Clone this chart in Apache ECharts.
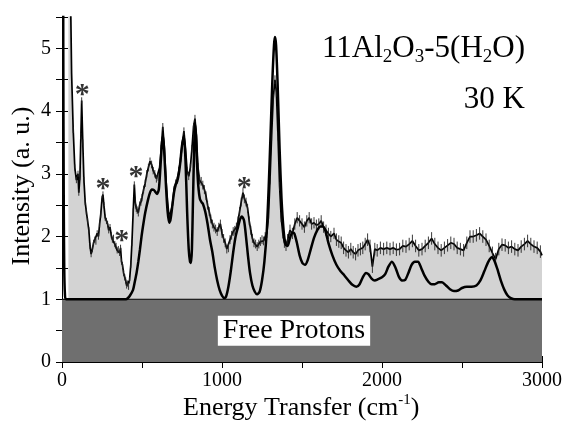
<!DOCTYPE html>
<html>
<head>
<meta charset="utf-8">
<script src="https://cdn.jsdelivr.net/npm/echarts@6/dist/echarts.min.js"></script>
<style>
html, body { margin: 0; padding: 0; background: #fff; }
#chart { width: 565px; height: 422px; }
</style>
</head>
<body>
<div id="chart"></div>
<script>
// Measured spectrum: energy transfer (cm-1), intensity (a. u.) and error bar half-widths
const expX = [
  40, 50, 60, 70, 80, 90, 100, 105, 112, 118,
  123, 130, 137, 145, 152, 160, 168, 175, 182, 190,
  197, 205, 212, 220, 228, 235, 242, 250, 256, 262,
  270, 278, 285, 292, 300, 308, 315, 322, 330, 338,
  345, 352, 360, 366, 372, 378, 385, 392, 398, 404,
  410, 416, 422, 430, 437, 445, 452,
  458, 464, 470, 477, 485, 493, 500, 510, 520, 530,
  540, 550, 560, 570, 580, 590, 600, 610, 620, 630,
  640, 650, 660, 670, 680, 690, 700, 710, 720, 730,
  740, 750, 762, 772, 782, 792, 802, 812, 822, 831,
  840, 850, 860, 870, 880, 890, 900, 910, 920, 930,
  940, 950, 960, 970, 980, 990, 1000,
  1010, 1020, 1030, 1040, 1050, 1060, 1070, 1080, 1090, 1100,
  1110, 1120, 1131, 1140, 1150, 1160, 1170, 1180, 1190, 1200,
  1210, 1220, 1230, 1240, 1250, 1260, 1270, 1280, 1290, 1300,
  1310, 1320, 1331, 1340, 1350, 1360, 1370, 1380, 1390, 1400,
  1410, 1425, 1440, 1455, 1470, 1485, 1500, 1515, 1530, 1545,
  1560, 1575, 1590, 1605, 1620, 1635, 1650, 1665, 1680, 1700,
  1715, 1730, 1745, 1760, 1775, 1790, 1805, 1820, 1835, 1850,
  1865, 1880, 1895, 1910, 1925,
  1940, 1955, 1970, 1990, 2010, 2030, 2050, 2070, 2090, 2110,
  2130, 2150, 2170, 2190, 2210, 2230, 2250, 2270, 2290, 2310,
  2330, 2350, 2370, 2390, 2410, 2430, 2450, 2470, 2490, 2510,
  2530, 2550, 2570, 2590, 2610, 2630, 2650, 2670, 2690, 2710,
  2730, 2750, 2770, 2790, 2810, 2830, 2850, 2870, 2890, 2910,
  2930, 2950, 2970, 2990, 3000
];
const expY = [
  9.0, 6.5, 4.6, 3.7, 3.1, 2.9, 3.0, 2.7, 2.95, 3.6,
  4.17, 3.5, 2.9, 2.55, 2.4, 2.25, 2.1, 1.85, 1.72, 1.8,
  1.9, 1.95, 1.92, 2.05, 2.0, 2.2, 2.35, 2.6, 2.67, 2.5,
  2.3, 2.25, 2.2, 2.1, 2.15, 2.02, 1.95, 1.98, 1.88, 1.85,
  1.78, 1.8, 1.74, 1.82, 1.6, 1.55, 1.42, 1.35, 1.3, 1.22,
  1.25, 1.2, 1.3, 1.55, 1.9, 2.4, 2.83,
  2.55, 2.45, 2.42, 2.38, 2.5, 2.55, 2.62, 2.75, 2.85, 3.0,
  3.1, 3.2, 3.15, 3.05, 3.0, 2.92, 2.95, 3.1, 3.4, 3.75,
  3.4, 2.9, 2.55, 2.3, 2.3, 2.5, 2.75, 2.85, 2.9, 3.05,
  3.2, 3.45, 3.68, 3.4, 3.05, 2.96, 3.1, 3.4, 3.75, 3.88,
  3.6, 3.1, 2.9, 2.88, 2.82, 2.75, 2.65, 2.5, 2.4, 2.28,
  2.2, 2.15, 2.12, 2.08, 2.15, 2.2, 2.05,
  1.97, 1.9, 1.8, 1.82, 1.95, 2.02, 2.08, 2.1, 2.15, 2.25,
  2.4, 2.55, 2.7, 2.6, 2.55, 2.45, 2.25, 2.1, 1.97, 1.9,
  1.88, 1.84, 1.88, 1.92, 1.95, 1.93, 2.0, 2.05, 2.3, 2.9,
  3.6, 4.2, 4.5, 4.3, 3.6, 2.8, 2.3, 2.05, 1.9, 1.85,
  1.95, 2.1, 2.05, 2.2, 2.3, 2.25, 2.2, 2.15, 2.25, 2.3,
  2.2, 2.22, 2.18, 2.2, 2.25, 2.15, 2.1, 2.05, 2.0, 2.05,
  1.95, 1.92, 1.9, 1.82, 1.78, 1.75, 1.8, 1.75, 1.72, 1.78,
  1.8, 1.82, 1.88, 1.95, 1.85,
  1.52, 1.8, 1.78, 1.82, 1.8, 1.82, 1.8, 1.82, 1.79, 1.8,
  1.85, 1.84, 1.88, 1.93, 1.85, 1.78, 1.8, 1.85, 1.9, 1.97,
  1.88, 1.82, 1.78, 1.82, 1.86, 1.9, 1.88, 1.82, 1.8, 1.78,
  1.9, 2.0, 2.0, 2.02, 2.05, 2.0, 1.95, 1.85, 1.74, 1.64,
  1.8, 1.87, 1.86, 1.82, 1.84, 1.8, 1.78, 1.84, 1.88, 1.93,
  1.88, 1.84, 1.82, 1.76, 1.7
];
const expErr = [
  0, 0, 0, 0.05, 0.05, 0.05, 0.05, 0.05, 0.05, 0.05,
  0.05, 0.05, 0.05, 0.05, 0.05, 0.05, 0.05, 0.05, 0.05, 0.05,
  0.05, 0.05, 0.05, 0.05, 0.05, 0.05, 0.05, 0.05, 0.05, 0.05,
  0.05, 0.05, 0.05, 0.05, 0.05, 0.05, 0.05, 0.05, 0.05, 0.05,
  0.05, 0.05, 0.05, 0.05, 0.05, 0.05, 0.05, 0.05, 0.05, 0.05,
  0.05, 0.05, 0.05, 0.05, 0.05, 0.05, 0.05,
  0.06, 0.06, 0.06, 0.06, 0.06, 0.06, 0.06, 0.06, 0.06, 0.06,
  0.06, 0.06, 0.06, 0.06, 0.06, 0.06, 0.06, 0.06, 0.06, 0.06,
  0.06, 0.06, 0.06, 0.06, 0.06, 0.06, 0.06, 0.06, 0.06, 0.06,
  0.06, 0.06, 0.06, 0.06, 0.06, 0.06, 0.06, 0.06, 0.06, 0.06,
  0.07, 0.07, 0.07, 0.07, 0.07, 0.07, 0.07, 0.07, 0.07, 0.07,
  0.07, 0.07, 0.07, 0.07, 0.07, 0.07, 0.07,
  0.07, 0.07, 0.07, 0.07, 0.07, 0.07, 0.07, 0.07, 0.07, 0.07,
  0.07, 0.07, 0.07, 0.07, 0.07, 0.07, 0.07, 0.07, 0.07, 0.07,
  0.07, 0.07, 0.07, 0.07, 0.07, 0.07, 0.07, 0.07, 0.07, 0.07,
  0.07, 0.07, 0.07, 0.07, 0.07, 0.07, 0.07, 0.08, 0.08, 0.08,
  0.09, 0.09, 0.09, 0.09, 0.09, 0.09, 0.09, 0.09, 0.09, 0.09,
  0.09, 0.09, 0.09, 0.09, 0.09, 0.09, 0.09, 0.09, 0.09, 0.09,
  0.1, 0.1, 0.1, 0.1, 0.1, 0.1, 0.1, 0.1, 0.1, 0.1,
  0.1, 0.1, 0.1, 0.1, 0.1,
  0.1, 0.1, 0.1, 0.1, 0.1, 0.1, 0.1, 0.1, 0.1, 0.1,
  0.1, 0.1, 0.1, 0.1, 0.1, 0.1, 0.1, 0.1, 0.1, 0.1,
  0.1, 0.1, 0.1, 0.1, 0.1, 0.1, 0.1, 0.1, 0.1, 0.1,
  0.1, 0.1, 0.1, 0.1, 0.1, 0.1, 0.1, 0.1, 0.1, 0.1,
  0.1, 0.1, 0.1, 0.1, 0.1, 0.1, 0.1, 0.1, 0.1, 0.1,
  0.1, 0.1, 0.1, 0.1, 0
];

// Model curve on top of the free-proton background
const fitX = [
  0, 5, 8, 11, 14, 18, 25, 100, 400, 412,
  425, 444, 455, 466, 477, 487, 497, 506, 520, 537,
  550, 562, 575, 594, 605, 615, 625, 632, 640, 650,
  660, 670, 680, 690, 700, 710, 720, 730, 740, 750,
  762, 772, 782, 792, 800, 806, 812, 818, 825, 831,
  838, 845, 852, 862, 872, 881, 895, 910, 925, 940,
  955, 970, 985, 1000, 1015, 1025, 1040, 1055, 1070, 1085,
  1100, 1112, 1125, 1138, 1150, 1162, 1175, 1190, 1205, 1219,
  1235, 1250, 1265, 1280, 1292, 1303, 1315, 1325, 1331, 1338,
  1348, 1360, 1372, 1385, 1397, 1410, 1425, 1440, 1452, 1468,
  1485, 1502, 1519, 1535, 1555, 1575, 1595, 1615, 1630, 1645,
  1665, 1690, 1715, 1740, 1765, 1790, 1815, 1840, 1860, 1880,
  1900, 1915, 1935, 1955, 1975, 2000, 2020, 2040, 2062, 2085,
  2105, 2125, 2145, 2165, 2185, 2205, 2225, 2245, 2265, 2290,
  2310, 2330, 2355, 2375, 2400, 2425, 2450, 2475, 2500, 2530,
  2560, 2590, 2615, 2640, 2665, 2687, 2705, 2725, 2745, 2765,
  2785, 2805, 2830, 3000
];
const fitY = [
  30, 12, 5, 2.5, 1.5, 1.1, 1.0, 1.0, 1.0, 1.02,
  1.06, 1.15, 1.28, 1.42, 1.6, 1.79, 2.0, 2.16, 2.38, 2.58,
  2.7, 2.75, 2.74, 2.68, 2.75, 3.1, 3.5, 3.6, 3.3, 2.8,
  2.4, 2.22, 2.3, 2.5, 2.7, 2.82, 2.88, 3.0, 3.2, 3.45,
  3.6, 3.2, 2.4, 1.8, 1.6, 1.58, 1.8, 2.5, 3.3, 3.8,
  3.6, 3.1, 2.8, 2.6, 2.55, 2.52, 2.4, 2.2, 1.95, 1.75,
  1.5, 1.3, 1.15, 1.06, 1.02, 1.04, 1.2, 1.45, 1.75, 2.0,
  2.15, 2.27, 2.32, 2.25, 2.0, 1.7, 1.42, 1.22, 1.12, 1.08,
  1.12, 1.3, 1.6, 2.1, 2.8, 3.6, 4.5, 5.05, 5.18, 5.05,
  4.4, 3.4, 2.6, 2.1, 1.88, 1.85, 1.98, 2.06, 2.05, 1.9,
  1.7, 1.58, 1.55, 1.62, 1.8, 1.98, 2.1, 2.16, 2.16, 2.1,
  1.9, 1.7, 1.55, 1.45, 1.38, 1.3, 1.23, 1.2, 1.24, 1.35,
  1.42, 1.4, 1.33, 1.3, 1.32, 1.35, 1.4, 1.52, 1.6, 1.5,
  1.36, 1.3, 1.31, 1.42, 1.55, 1.6, 1.6, 1.5, 1.38, 1.28,
  1.24, 1.24, 1.27, 1.27, 1.22, 1.16, 1.13, 1.14, 1.18, 1.2,
  1.2, 1.22, 1.3, 1.45, 1.6, 1.67, 1.6, 1.45, 1.28, 1.15,
  1.06, 1.02, 1.0, 1.0
];

// Peaks marked with an asterisk (label anchor in data units)
const starX = [127, 256, 373, 462, 1139];
const starY = [4.36, 2.86, 2.03, 3.05, 2.88];

// Free-proton band: [xStart, xEnd, yLow, yHigh]
const freeBand = [[0, 3000, 0, 1]];
const freeLabel = 'Free Protons';

const xTickLabels = ['0', '1000', '2000', '3000'];
const yTickLabels = ['0', '1', '2', '3', '4', '5'];

const SERIF = '"Liberation Serif", "DejaVu Serif", serif';

const expData = expX.map((x, i) => [x, expY[i], expErr[i]]);
const fitData = fitX.map((x, i) => [x, fitY[i]]);
const starData = starX.map((x, i) => [x, starY[i]]);

const chart = echarts.init(document.getElementById('chart'), null, { renderer: 'canvas' });

const axisLine = { show: true, lineStyle: { color: '#000', width: 1 } };
const tickStyle = { show: true, inside: false, length: 6, lineStyle: { color: '#000', width: 1 } };

const option = {
  backgroundColor: '#fff',
  animation: false,
  grid: { left: 62, right: 23, top: 17, bottom: 60, containLabel: false },
  xAxis: [
    {
      type: 'value', min: 0, max: 3000, interval: 500, position: 'bottom',
      axisLine, axisTick: tickStyle, splitLine: { show: false },
      axisLabel: {
        color: '#000', fontFamily: SERIF, fontSize: 20, margin: 9,
        formatter: v => { const s = String(v); return xTickLabels.indexOf(s) >= 0 ? s : ''; }
      }
    },
    {
      type: 'value', min: 0, max: 3000, interval: 500, position: 'top',
      axisLine, axisTick: tickStyle, splitLine: { show: false }, axisLabel: { show: false }
    }
  ],
  yAxis: [
    {
      type: 'value', min: 0, max: 5.5, interval: 0.5, position: 'left',
      axisLine, axisTick: tickStyle, splitLine: { show: false },
      axisLabel: {
        color: '#000', fontFamily: SERIF, fontSize: 20, margin: 11,
        formatter: v => { const s = String(v); return yTickLabels.indexOf(s) >= 0 ? s : ''; }
      }
    },
    {
      type: 'value', min: 0, max: 5.5, interval: 0.5, position: 'right',
      axisLine, axisTick: tickStyle, splitLine: { show: false }, axisLabel: { show: false }
    }
  ],
  series: [
    {
      // measured spectrum, shaded underneath
      name: 'measured',
      type: 'line',
      data: expData,
      symbol: 'none',
      clip: true,
      z: 2,
      lineStyle: { color: '#000', width: 1.7 },
      areaStyle: { color: '#d3d3d3', opacity: 1, origin: 'start' }
    },
    {
      // free-proton background band with its label
      name: 'free protons',
      type: 'custom',
      z: 3,
      data: freeBand,
      renderItem: (params, api) => {
        const p0 = api.coord([api.value(0), api.value(2)]);
        const p1 = api.coord([api.value(1), api.value(3)]);
        const cx = api.coord([1450, 0.5]);
        return {
          type: 'group',
          children: [
            {
              type: 'rect',
              shape: { x: p0[0], y: p1[1], width: p1[0] - p0[0], height: p0[1] - p1[1] },
              style: { fill: '#6f6f6f' }
            },
            {
              type: 'line',
              shape: { x1: p0[0], y1: p1[1], x2: p1[0], y2: p1[1] },
              style: { stroke: '#000', lineWidth: 1.2 }
            },
            {
              type: 'text',
              x: cx[0], y: cx[1],
              style: {
                text: freeLabel, fill: '#000', font: '28px ' + SERIF,
                align: 'center', verticalAlign: 'middle',
                backgroundColor: '#fff', padding: [2, 5, 0, 5]
              }
            }
          ]
        };
      }
    },
    {
      // error bars of the measured spectrum
      name: 'errors',
      type: 'custom',
      z: 4,
      data: expData,
      clip: true,
      renderItem: (params, api) => {
        const e = api.value(2);
        if (!e) return null;
        const lo = api.coord([api.value(0), api.value(1) - e]);
        const hi = api.coord([api.value(0), api.value(1) + e]);
        return {
          type: 'line',
          shape: { x1: lo[0], y1: lo[1], x2: hi[0], y2: hi[1] },
          style: { stroke: '#222', lineWidth: 0.9 }
        };
      }
    },
    {
      // model curve
      name: 'model',
      type: 'line',
      data: fitData,
      symbol: 'none',
      smooth: 0.25,
      clip: true,
      z: 5,
      lineStyle: { color: '#000', width: 2.5 }
    },
    {
      name: 'marks',
      type: 'scatter',
      data: starData,
      symbolSize: 0,
      z: 6,
      label: {
        show: true, position: 'inside', formatter: '*',
        color: '#000', fontFamily: SERIF, fontSize: 30, fontWeight: 'bold', offset: [0, 7]
      }
    }
  ],
  graphic: [
    {
      type: 'text', right: 40, top: 33, z: 10,
      style: {
        text: '{m|11Al}{s|2}{m|O}{s|3}{m|-5(H}{s|2}{m|O)}',
        fill: '#000',
        rich: {
          m: { fontFamily: SERIF, fontSize: 31, lineHeight: 36 },
          s: { fontFamily: SERIF, fontSize: 19, lineHeight: 19, verticalAlign: 'bottom' }
        }
      }
    },
    {
      type: 'text', right: 40, top: 84, z: 10,
      style: { text: '30 K', fill: '#000', font: '31px ' + SERIF }
    },
    {
      type: 'text', x: 22, y: 186, rotation: Math.PI / 2, z: 10,
      style: {
        text: 'Intensity (a. u.)', fill: '#000', font: '26px ' + SERIF,
        align: 'center', verticalAlign: 'middle'
      }
    },
    {
      type: 'text', left: 183, top: 393, z: 10,
      style: {
        text: '{m|Energy Transfer (cm}{s|-1}{m|)}',
        fill: '#000',
        rich: {
          m: { fontFamily: SERIF, fontSize: 26, lineHeight: 30 },
          s: { fontFamily: SERIF, fontSize: 15, lineHeight: 15, verticalAlign: 'top' }
        }
      }
    }
  ]
};

chart.setOption(option);
</script>
</body>
</html>
